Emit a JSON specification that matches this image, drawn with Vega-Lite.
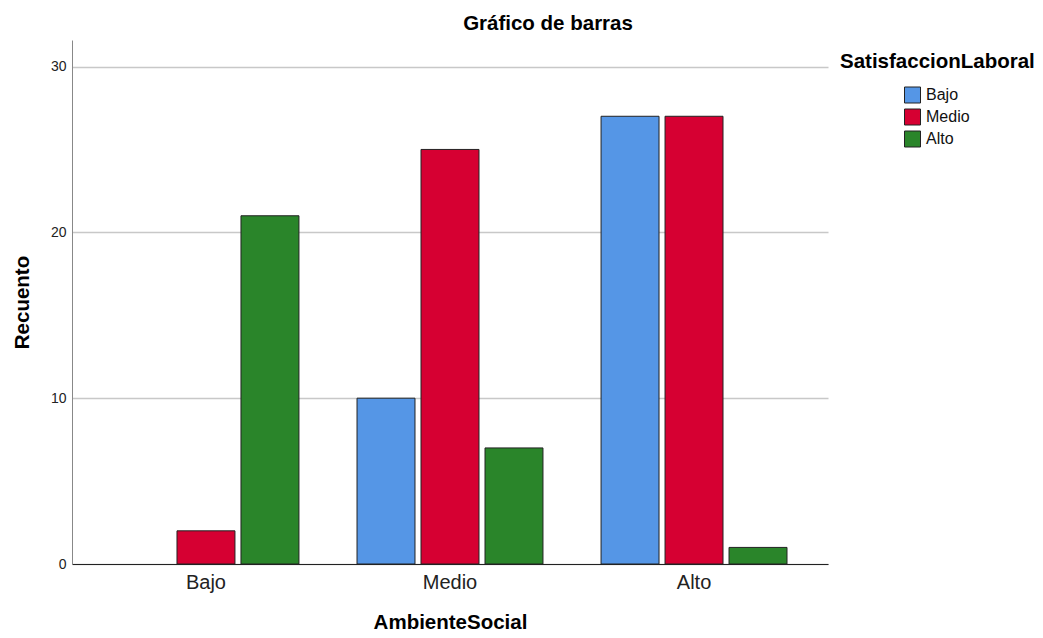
{
  "$schema": "https://vega.github.io/schema/vega-lite/v6.json",
  "autosize": {"type": "none"},
  "width": 756,
  "height": 524,
  "padding": {"left": 72, "top": 40, "right": 215, "bottom": 74},
  "background": "white",
  "title": {"text": "Gráfico de barras", "font": "Liberation Sans", "fontSize": 20.5, "fontWeight": "bold", "color": "#000000", "anchor": "middle", "dx": 98, "offset": 6},
  "data": {"values": [
    {"AmbienteSocial": "Bajo", "SatisfaccionLaboral": "Medio", "Recuento": 2},
    {"AmbienteSocial": "Bajo", "SatisfaccionLaboral": "Alto", "Recuento": 21},
    {"AmbienteSocial": "Medio", "SatisfaccionLaboral": "Bajo", "Recuento": 10},
    {"AmbienteSocial": "Medio", "SatisfaccionLaboral": "Medio", "Recuento": 25},
    {"AmbienteSocial": "Medio", "SatisfaccionLaboral": "Alto", "Recuento": 7},
    {"AmbienteSocial": "Alto", "SatisfaccionLaboral": "Bajo", "Recuento": 27},
    {"AmbienteSocial": "Alto", "SatisfaccionLaboral": "Medio", "Recuento": 27},
    {"AmbienteSocial": "Alto", "SatisfaccionLaboral": "Alto", "Recuento": 1}
  ]},
  "mark": {"type": "bar", "stroke": "#222222", "strokeWidth": 1},
  "encoding": {
    "x": {
      "field": "AmbienteSocial", "type": "nominal",
      "sort": ["Bajo", "Medio", "Alto"],
      "scale": {"domain": ["Bajo", "Medio", "Alto"], "paddingInner": 0.238, "paddingOuter": 0.168},
      "axis": {"title": "AmbienteSocial", "titleFont": "Liberation Sans", "titleFontSize": 20.5, "titleFontWeight": "bold", "titleColor": "#000000", "titlePadding": 20,
               "labelAngle": 0, "labelFont": "Liberation Sans", "labelFontSize": 20, "labelColor": "#222222", "labelPadding": 8,
               "ticks": false, "domainColor": "#222222", "domainWidth": 1, "grid": false}
    },
    "xOffset": {
      "field": "SatisfaccionLaboral", "type": "nominal",
      "scale": {"domain": ["Bajo", "Medio", "Alto"], "paddingInner": 0.094, "paddingOuter": 0}
    },
    "y": {
      "field": "Recuento", "type": "quantitative",
      "scale": {"domain": [0, 31.6], "nice": false},
      "axis": {"title": "Recuento", "titleFont": "Liberation Sans", "titleFontSize": 20.5, "titleFontWeight": "bold", "titleColor": "#000000", "titlePadding": 18,
               "values": [0, 10, 20, 30], "labelFont": "Liberation Sans", "labelFontSize": 14, "labelColor": "#222222", "labelPadding": 6,
               "ticks": false, "domainColor": "#888888", "grid": true, "gridColor": "#C8C8C8", "gridWidth": 1.5}
    },
    "color": {
      "field": "SatisfaccionLaboral", "type": "nominal",
      "scale": {"domain": ["Bajo", "Medio", "Alto"], "range": ["#5596E6", "#D60032", "#2A852A"]},
      "legend": {"title": "SatisfaccionLaboral", "orient": "none", "legendX": 768, "legendY": 12, "titleLimit": 400,
                 "titleFont": "Liberation Sans", "titleFontSize": 20.5, "titleFontWeight": "bold", "titleColor": "#000000", "titlePadding": 14,
                 "labelFont": "Liberation Sans", "labelFontSize": 16, "labelColor": "#111111", "labelOffset": 5,
                 "symbolType": "square", "symbolSize": 256, "symbolStrokeColor": "#222222", "symbolStrokeWidth": 1, "symbolOpacity": 1,
                 "symbolOffset": 64, "rowPadding": 1}
    }
  },
  "config": {"view": {"stroke": null}, "axis": {"gridColor": "#C8C8C8"}}
}
